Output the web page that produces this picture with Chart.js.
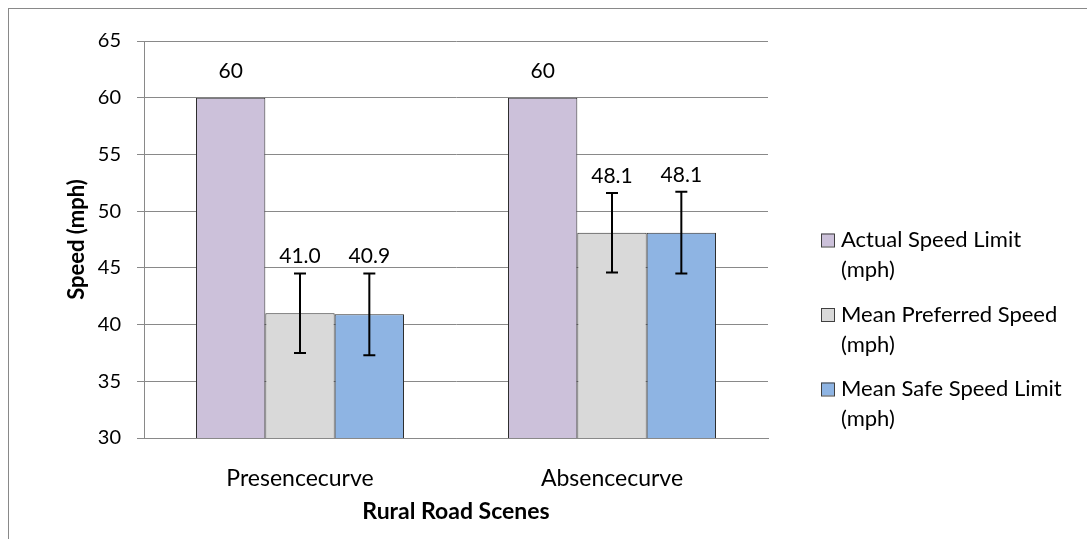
<!DOCTYPE html>
<html>
<head>
<meta charset="utf-8">
<script src="https://cdn.jsdelivr.net/npm/chart.js@4"></script>
<style>
  html, body { margin: 0; padding: 0; background: #fff; }
  #wrap { width: 1087px; height: 539px; position: relative; }
</style>
</head>
<body>
<div id="wrap"><canvas id="myChart"></canvas></div>
<script>
// data
const categories = ['Presencecurve', 'Absencecurve'];
const seriesNames = ['Actual Speed Limit (mph)', 'Mean Preferred Speed (mph)', 'Mean Safe Speed Limit (mph)'];
const actualLimit = [60, 60];
const preferredSpeed = [41.0, 48.1];
const safeSpeed = [40.9, 48.1];
const preferredErr = [3.5, 3.5];
const safeErr = [3.6, 3.6];
const yTicks = [30, 35, 40, 45, 50, 55, 60, 65];

const FONT = 'Lato, "Open Sans", sans-serif';
const gridGray = '#898989';

// error bars + value labels
const barExtras = {
  id: 'barExtras',
  afterDatasetsDraw(chart) {
    const ctx = chart.ctx;
    const y = chart.scales.y;
    chart.data.datasets.forEach((ds, i) => {
      const meta = chart.getDatasetMeta(i);
      meta.data.forEach((bar, j) => {
        const v = ds.data[j];
        const e = ds.errors ? ds.errors[j] : 0;
        ctx.save();
        if (e) {
          const top = y.getPixelForValue(v + e);
          const bot = y.getPixelForValue(v - e);
          ctx.strokeStyle = '#000';
          ctx.lineWidth = 2;
          ctx.beginPath();
          ctx.moveTo(bar.x, top); ctx.lineTo(bar.x, bot);
          ctx.moveTo(bar.x - 6, top); ctx.lineTo(bar.x + 6, top);
          ctx.moveTo(bar.x - 6, bot); ctx.lineTo(bar.x + 6, bot);
          ctx.stroke();
        }
        ctx.fillStyle = '#000';
        ctx.font = '21px ' + FONT;
        ctx.textAlign = 'center';
        ctx.textBaseline = 'middle';
        const ly = e ? y.getPixelForValue(v + e) - 17 : y.getPixelForValue(v) - 26;
        ctx.fillText(v.toFixed(ds.decimals), bar.x, ly);
        ctx.restore();
      });
    });
  }
};

// legend on the right, two lines per entry like the original
const sideLegend = {
  id: 'sideLegend',
  afterDraw(chart) {
    const ctx = chart.ctx;
    ctx.save();
    ctx.font = '22px ' + FONT;
    ctx.textBaseline = 'middle';
    ctx.textAlign = 'left';
    chart.data.datasets.forEach((ds, i) => {
      const cy = 240 + i * 74.5;
      ctx.fillStyle = ds.backgroundColor;
      ctx.fillRect(821, cy - 6.5, 13, 13);
      ctx.strokeStyle = '#404040';
      ctx.lineWidth = 1;
      ctx.strokeRect(821.5, cy - 6, 13, 13);
      const cut = ds.label.lastIndexOf(' (');
      ctx.fillStyle = '#000';
      ctx.fillText(ds.label.slice(0, cut), 841, cy);
      ctx.fillText(ds.label.slice(cut + 1), 841, cy + 30);
    });
    ctx.restore();
  }
};

const frame = {
  id: 'frame',
  beforeDraw(chart) {
    const ctx = chart.ctx;
    ctx.save();
    ctx.fillStyle = '#fff';
    ctx.fillRect(0, 0, chart.width, chart.height);
    ctx.strokeStyle = gridGray;
    ctx.lineWidth = 1;
    ctx.strokeRect(8.5, 8.5, chart.width + 20, chart.height + 20);
    ctx.restore();
  }
};

const ctx = document.getElementById('myChart');

new Chart(ctx, {
  type: 'bar',
  data: {
    labels: categories,
    datasets: [
      { label: seriesNames[0], data: actualLimit, backgroundColor: '#CCC1DA', decimals: 0 },
      { label: seriesNames[1], data: preferredSpeed, errors: preferredErr, backgroundColor: '#D9D9D9', decimals: 1 },
      { label: seriesNames[2], data: safeSpeed, errors: safeErr, backgroundColor: '#8EB4E3', decimals: 1 }
    ].map(d => Object.assign(d, {
      borderColor: '#2e2e2e', borderWidth: 1, barPercentage: 1, categoryPercentage: 2 / 3
    }))
  },
  options: {
    responsive: true,
    maintainAspectRatio: false,
    animation: false,
    layout: { padding: { left: 0, top: 41, right: 319, bottom: 0 } },
    plugins: { legend: { display: false }, tooltip: { enabled: false } },
    scales: {
      x: {
        grid: { display: false },
        border: { display: true, color: gridGray },
        ticks: { color: '#000', font: { family: FONT, size: 23 }, padding: 19 },
        title: { display: true, text: 'Rural Road Scenes', color: '#000',
                 font: { family: FONT, size: 23, weight: 'bold' }, padding: { top: 0, bottom: 14 } },
        afterFit(s) { s.height = 101; }
      },
      y: {
        min: 30, max: 65,
        afterBuildTicks(s) { s.ticks = yTicks.map(v => ({ value: v })); },
        ticks: { color: '#000', font: { family: FONT, size: 20 }, padding: 16 },
        grid: { color: gridGray, tickLength: 7 },
        border: { color: gridGray },
        title: { display: true, text: 'Speed (mph)', color: '#000',
                 font: { family: FONT, size: 22, weight: 'bold' }, padding: { top: 64, bottom: 0 } },
        afterFit(s) { s.width = 144; }
      }
    }
  },
  plugins: [frame, barExtras, sideLegend]
});
</script>
</body>
</html>
